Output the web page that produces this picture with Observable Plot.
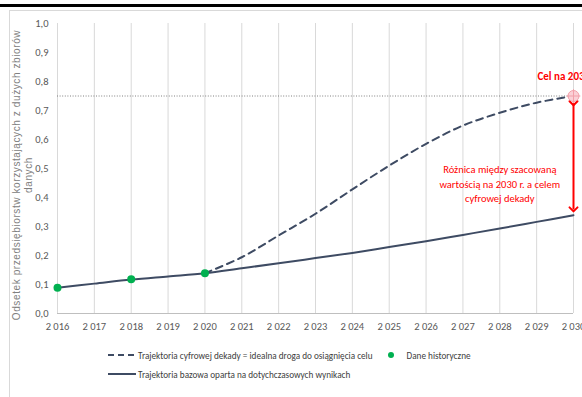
<!DOCTYPE html>
<html>
<head>
<meta charset="utf-8">
<script src="https://cdn.jsdelivr.net/npm/d3@7"></script>
<script src="https://cdn.jsdelivr.net/npm/@observablehq/plot@0.6"></script>
<style>
  body { margin: 0; background: #fff; }
  #wrap {
    position: relative; width: 582px; height: 397px; overflow: hidden;
    font-family: "Liberation Sans Narrow", "Arial Narrow", Calibri, "Liberation Sans", sans-serif;
  }
  #topbar { position: absolute; left: 0; top: 4px; width: 582px; height: 3px; background: #000; }
  #frame {
    position: absolute; left: 9px; top: 10px; width: 600px; height: 400px;
    border-left: 1px solid #d9d9d9; border-top: 1px solid #d9d9d9;
  }
  #chart { position: absolute; left: 0; top: 0; }
  #ytitle {
    position: absolute; width: 340px; height: 26px; left: -146px; top: 162px;
    transform: rotate(-90deg); transform-origin: center;
    text-align: center; font-size: 10px; line-height: 12px; letter-spacing: 0.6px;
    white-space: nowrap;
    color: #808080; font-family: "Liberation Sans", Calibri, sans-serif;
  }
  .legend-row {
    position: absolute; display: flex; align-items: center; height: 14px;
    font-size: 9.2px; color: #404040; white-space: nowrap;
  }
  .legend-row svg { display: block; }
</style>
</head>
<body>
<div id="wrap">
  <div id="topbar"></div>
  <div id="frame"></div>
  <div id="chart"></div>
  <div id="ytitle">Odsetek przedsiębiorstw korzystających z dużych zbiorów<br>danych</div>
  <div class="legend-row" style="left:108px; top:348px;">
    <svg width="28" height="6"><line x1="0" x2="28" y1="3" y2="3" stroke="#3e4b63" stroke-width="2" stroke-dasharray="6,4"></line></svg>
    <span style="margin-left:2px;">Trajektoria cyfrowej dekady = idealna droga do osiągnięcia celu</span>
    <svg width="8" height="8" style="margin-left:14px;"><circle cx="4" cy="4" r="3" fill="#00b050"></circle></svg>
    <span style="margin-left:12px;">Dane historyczne</span>
  </div>
  <div class="legend-row" style="left:108px; top:367px;">
    <svg width="28" height="6"><line x1="0" x2="28" y1="3" y2="3" stroke="#3e4b63" stroke-width="2"></line></svg>
    <span style="margin-left:2px;">Trajektoria bazowa oparta na dotychczasowych wynikach</span>
  </div>
</div>
<script>
// Years on the horizontal axis
const years = [2016, 2017, 2018, 2019, 2020, 2021, 2022, 2023, 2024, 2025, 2026, 2027, 2028, 2029, 2030];

// Baseline trajectory based on results so far
const baselineValues = [0.089, 0.103, 0.117, 0.128, 0.139, 0.156, 0.173, 0.191, 0.209, 0.229, 0.249, 0.271, 0.293, 0.316, 0.339];

// Digital-decade trajectory (ideal path to the target)
const decadeYears = [2020, 2021, 2022, 2023, 2024, 2025, 2026, 2027, 2028, 2029, 2030];
const decadeValues = [0.139, 0.194, 0.269, 0.344, 0.428, 0.510, 0.585, 0.648, 0.692, 0.727, 0.750];

// Historical observations
const historyYears = [2016, 2018, 2020];
const historyValues = [0.089, 0.118, 0.139];

// 2030 target
const targetYear = 2030;
const targetValue = 0.75;

// Y tick values
const yTicks = [0, 0.1, 0.2, 0.3, 0.4, 0.5, 0.6, 0.7, 0.8, 0.9, 1.0];

const targetLabel = "Cel na 2030";
const gapLabel = "Różnica między szacowaną\nwartością na 2030 r. a celem\ncyfrowej dekady";

const baseline = years.map((year, i) => ({year, value: baselineValues[i]}));
const decade = decadeYears.map((year, i) => ({year, value: decadeValues[i]}));
const history = historyYears.map((year, i) => ({year, value: historyValues[i]}));
const target = [{year: targetYear, value: targetValue}];
const baselineEnd = baselineValues[baselineValues.length - 1];
const gap = [{year: targetYear, top: targetValue - 0.025, bottom: baselineEnd + 0.02}];

const lineColor = "#3e4b63";
const red = "#ff0000";

const chart = Plot.plot({
  width: 582,
  height: 340,
  marginTop: 23,
  marginBottom: 27,
  marginLeft: 57,
  marginRight: 9,
  style: {
    fontFamily: '"Liberation Sans Narrow", "Arial Narrow", Calibri, "Liberation Sans", sans-serif',
    fontSize: "10.5px",
    color: "#595959",
    background: "transparent",
    overflow: "visible"
  },
  x: {
    domain: [2016, 2030],
    ticks: years,
    tickSize: 0,
    tickPadding: 9,
    tickFormat: d => d3.format(",")(d).replace(",", " "),
    label: null
  },
  y: {
    domain: [0, 1],
    ticks: yTicks,
    tickSize: 0,
    tickPadding: 9,
    tickFormat: d => d.toFixed(1).replace(".", ","),
    label: null
  },
  marks: [
    Plot.ruleX(years, {stroke: "#d9d9d9", strokeWidth: 1}),
    Plot.ruleY([0], {stroke: "#bfbfbf"}),
    Plot.ruleY([targetValue], {x1: 2016, x2: targetYear, stroke: "#808080", strokeDasharray: "1,1.6"}),
    Plot.line(baseline, {x: "year", y: "value", stroke: lineColor, strokeWidth: 2, curve: "catmull-rom"}),
    Plot.line(decade, {x: "year", y: "value", stroke: lineColor, strokeWidth: 2, strokeDasharray: "7,5", curve: "catmull-rom"}),
    Plot.dot(history, {x: "year", y: "value", r: 4, fill: "#00b050"}),
    Plot.link(gap, {
      x1: "year", x2: "year", y1: "top", y2: "bottom",
      stroke: red, strokeWidth: 2, markerStart: "arrow", markerEnd: "arrow"
    }),
    Plot.dot(target, {x: "year", y: "value", r: 5.5, fill: "#fbd0d6", stroke: "#f2a0aa", strokeWidth: 1}),
    Plot.dot(target, {x: "year", y: "value", r: 4.5, symbol: "plus", stroke: "#f2a0aa", strokeWidth: 1}),
    Plot.text([targetLabel], {
      x: targetYear, y: targetValue, dx: -36, dy: -20, textAnchor: "start",
      fill: red, fontWeight: "bold", fontSize: 11
    }),
    Plot.text([gapLabel], {
      x: 2028, y: 0.45, fill: red, fontSize: 10.5, lineHeight: 1.35, textAnchor: "middle"
    })
  ]
});

document.getElementById("chart").appendChild(chart);
</script>
</body>
</html>
